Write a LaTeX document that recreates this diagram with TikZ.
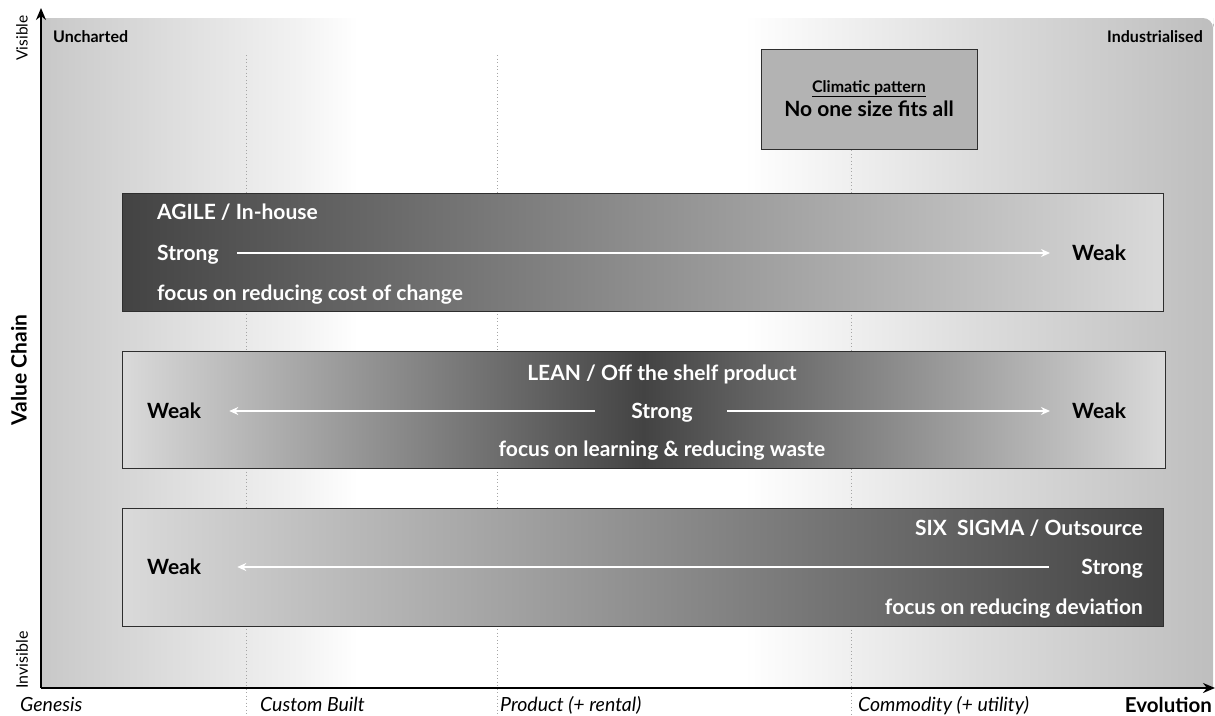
\documentclass[tikz,border=0pt]{standalone}
\usepackage{fontspec}
\setmainfont{Lato}
\usetikzlibrary{arrows.meta,positioning,calc}
\definecolor{boxdark}{HTML}{434343}
\definecolor{boxlight}{HTML}{DADADA}
\definecolor{climfill}{HTML}{B3B3B3}
\definecolor{edgegray}{HTML}{2E2E2E}
\definecolor{gridgray}{HTML}{A6A6A6}
\definecolor{bgleft}{HTML}{C8C8C8}
\definecolor{bgfadeL}{HTML}{F2F2F2}
\definecolor{bgfadeR}{HTML}{DCDCDC}
\definecolor{bgright}{HTML}{BEBEBE}
\pgfdeclarehorizontalshading{mapbg}{100bp}{color(0bp)=(bgleft); color(25bp)=(bgleft);
  color(36bp)=(bgfadeL); color(38.5bp)=(white); color(55bp)=(white);
  color(65bp)=(bgfadeR); color(75bp)=(bgright); color(100bp)=(bgright)}

\begin{document}
\begin{tikzpicture}[
    x=1pt, y=-1pt,
    axis/.style={line width=2.6pt,-{Stealth[length=12pt,width=10pt]}},
    phase/.style={gridgray,line width=1pt,dash pattern=on 1pt off 2.5pt},
    band/.style={draw=edgegray,line width=1pt,inner sep=0pt},
    intext/.style={font=\bfseries\fontsize{21}{24}\selectfont,text=white,
                   inner sep=0pt,text height=14pt,text depth=0pt},
    weak/.style={font=\bfseries\fontsize{21}{24}\selectfont,
                 inner sep=0pt,text height=14pt,text depth=0pt,anchor=west},
    warr/.style={white,line width=2pt,-{Stealth[length=9pt,width=8pt]}},
    stage/.style={font=\itshape\fontsize{19.5}{22}\selectfont,anchor=base west,inner sep=0pt},
    corner/.style={font=\bfseries\fontsize{16}{18}\selectfont,inner sep=0pt}
  ]
    \useasboundingbox (0,0) rectangle (1215,715);

    % map background
    \shade[shading=mapbg] (41,688) -- (41,18) -- (1203,18)
      [rounded corners=10pt] -- (1213,18) -- (1213,28) [sharp corners] -- (1213,688) -- cycle;

    % evolution stages
    \draw[phase] (246,55) -- (246,715);
    \draw[phase] (497,55) -- (497,715);
    \draw[phase] (851,150) -- (851,715);

    % climatic pattern
    \node[band, fill=climfill, minimum width=216pt, minimum height=100pt] (clim) at (869,99) {};
    \node[font=\bfseries\fontsize{16}{18}\selectfont, anchor=base, inner sep=0pt]
      (climTitle) at (869,92) {\underline{Climatic pattern}};
    \node[font=\bfseries\fontsize{21}{24}\selectfont, anchor=base, inner sep=0pt]
      (climText) at (869,116) {No one size fits all};

    % methods
    \node[band, minimum width=1041pt, minimum height=118pt,
          left color=boxdark, right color=boxlight] (agile) at (642.5,252) {};
    \node[band, minimum width=1043pt, minimum height=117pt,
          left color=boxlight, right color=boxlight, middle color=boxdark] (lean) at (643.5,409.5) {};
    \node[band, minimum width=1041pt, minimum height=118pt,
          left color=boxlight, right color=boxdark] (sigma) at (642.5,567) {};

    \node[intext, anchor=west] (agTitle)  at (157,212) {AGILE / In-house};
    \node[intext, anchor=west] (agStrong) at (157,253) {Strong};
    \node[intext, anchor=west] (agFocus)  at (157,293) {focus on reducing cost of change};
    \node[weak] (agWeak) at (1072,253) {Weak};

    \node[intext] (lnTitle)  at (662,373) {LEAN / Off the shelf product};
    \node[intext] (lnStrong) at (662,411) {Strong};
    \node[intext] (lnFocus)  at (662,449) {focus on learning \& reducing waste};
    \node[weak] (lnWeakL) at (147,411) {Weak};
    \node[weak] (lnWeakR) at (1072,411) {Weak};

    \node[intext, anchor=east] (sxTitle)  at (1143,528) {SIX\ \ SIGMA / Outsource};
    \node[intext, anchor=east] (sxStrong) at (1143,567) {Strong};
    \node[intext, anchor=east] (sxFocus)  at (1143,607) {focus on reducing deviation};
    \node[weak] (sxWeak) at (147,567) {Weak};

    \draw[warr, shorten <=18pt, shorten >=22pt] (agStrong) -- (agWeak);
    \draw[warr, shorten <=36pt, shorten >=28pt] (lnStrong) -- (lnWeakL);
    \draw[warr, shorten <=34pt, shorten >=22pt] (lnStrong) -- (lnWeakR);
    \draw[warr, shorten <=32pt, shorten >=36pt] (sxStrong) -- (sxWeak);

    % axes
    \coordinate (origin) at (41,688);
    \coordinate (ytop) at (41,8);
    \coordinate (xend) at (1215,688);
    \draw[axis] (origin) -- (ytop);
    \draw[axis] (origin) -- (xend);

    \node[corner, anchor=base west] (uncharted) at (53,42) {Uncharted};
    \node[corner, anchor=base east] (industrial) at (1203,42) {Industrialised};

    \node[rotate=90, font=\fontsize{15.5}{17}\selectfont, inner sep=0pt] (visible) at (22,38) {Visible};
    \node[rotate=90, font=\fontsize{16}{18}\selectfont, inner sep=0pt] (invisible) at (22,660) {Invisible};
    \node[rotate=90, font=\bfseries\fontsize{21}{24}\selectfont, inner sep=0pt] (vchain) at (19,370) {Value Chain};

    \node[stage] (genesis) at (20,711) {Genesis};
    \node[stage] (custom) at (260,711) {Custom Built};
    \node[stage] (product) at (500,711) {Product (+ rental)};
    \node[stage] (commodity) at (858,711) {Commodity (+ utility)};
    \node[font=\bfseries\fontsize{20.5}{23}\selectfont, anchor=base east, inner sep=0pt]
      (evolution) at (1212,712) {Evolution};
  \end{tikzpicture}
\end{document}
